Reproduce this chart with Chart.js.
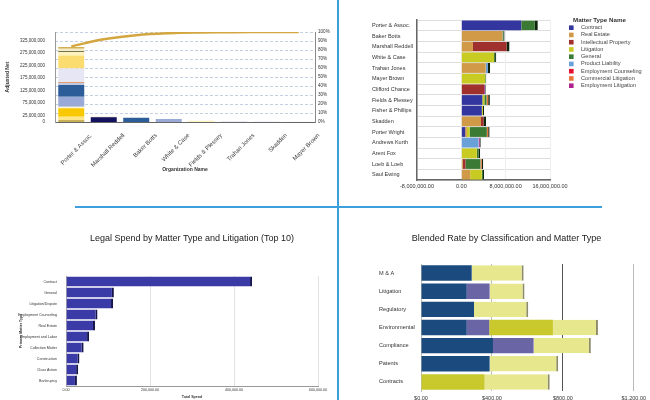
<!DOCTYPE html>
<html>
<head>
<meta charset="utf-8">
<script src="https://cdn.jsdelivr.net/npm/chart.js@4"></script>
<style>
body { margin: 0; background: #fff; width: 650px; height: 400px; overflow: hidden; position: relative; }
canvas { position: absolute; }
#c1 { left: 0; top: 0; }
#c2 { left: 339px; top: 0; }
#c3 { left: 0; top: 208px; }
#c4 { left: 339px; top: 208px; }
.vline { position: absolute; left: 337px; top: 0; width: 1.5px; height: 400px; background: #3d9fdc; }
.hline { position: absolute; left: 75px; top: 206px; width: 527px; height: 1.5px; background: #3d9fdc; }
</style>
</head>
<body>
<canvas id="c1" width="337" height="205"></canvas>
<canvas id="c2" width="311" height="205"></canvas>
<canvas id="c3" width="337" height="192"></canvas>
<canvas id="c4" width="311" height="192"></canvas>
<div class="vline"></div>
<div class="hline"></div>
<script>
// ---- chart 1 : adjusted net by organization (pareto)
const orgNames = ['Porter & Assoc.', 'Marshall Reddell', 'Baker Botts', 'White & Case', 'Fields & Plessey', 'Trahan Jones', 'Skadden', 'Mayer Brown'];
const netTicks = [0, 25e6, 75e6, 125e6, 175e6, 225e6, 275e6, 325e6];
// stacked segments, bottom to top
const seg01 = [8e6, 0, 0, 0, 0, 0, 0, 0];
const seg02 = [13e6, 0, 0, 0, 0, 0, 0, 0];
const seg03 = [34e6, 0, 0, 0, 0, 0, 0, 0];
const seg04 = [6e6, 0, 0, 0, 0, 0, 0, 0];
const seg05 = [40e6, 0, 0, 12e6, 0, 0, 0, 0];
const seg06 = [47e6, 0, 17e6, 0, 0, 0, 0, 0];
const seg07 = [0, 19e6, 0, 0, 0, 0, 0, 0];
const seg08 = [8e6, 0, 0, 0, 0, 0, 0, 0];
const seg09 = [3e6, 1.5e6, 0, 0, 0, 0, 0, 0];
const seg10 = [55e6, 0, 0, 0, 0, 3e6, 2e6, 1e6];
const seg11 = [52e6, 0, 0, 0, 0, 0, 0, 0];
const seg12 = [14e6, 0, 0, 0, 5e6, 0, 0, 0];
const seg13 = [3e6, 0, 0, 0, 0, 0, 0, 0];
const seg14 = [10e6, 0, 0, 0, 0, 0, 0, 0];
const seg15 = [7e6, 0, 0, 0, 0, 0, 0, 0];
const paretoPct = [84, 92, 96.5, 98.7, 99.5, 99.8, 99.9, 100];

// ---- chart 2 : spend by firm and matter type
const firms = ['Porter & Assoc.', 'Baker Botts', 'Marshall Reddell', 'White & Case', 'Trahan Jones', 'Mayer Brown', 'Clifford Chance', 'Fields & Plessey', 'Fisher & Phillips', 'Skadden', 'Porter Wright', 'Andrews Kurth', 'Arent Fox', 'Loeb & Loeb', 'Saul Ewing'];
const matterTypes = ['Contract', 'Real Estate', 'Intellectual Property', 'Litigation', 'General', 'Product Liability', 'Employment Counseling', 'Commercial Litigation', 'Employment Litigation'];
const contract   = [10.8e6, 0, 0, 0, 0, 0, 0, 3.8e6, 3.7e6, 0, 0.7e6, 0, 0, 0, 0];
const realEstate = [0, 7.4e6, 2.1e6, 0, 4.4e6, 0, 0, 0, 0, 3.55e6, 0.3e6, 0, 0, 0.25e6, 1.6e6];
const intellProp = [0, 0, 6.6e6, 0, 0, 0, 4.1e6, 0, 0, 0.9e6, 0, 0, 0, 0.5e6, 0];
const litigation = [0, 0, 0, 5.9e6, 0, 4.3e6, 0, 0.35e6, 0.4e6, 0, 0.5e6, 0, 2.8e6, 0, 2.1e6];
const general    = [3.0e6, 0.4e6, 0, 0.4e6, 0, 0.2e6, 0, 0.4e6, 0, 0, 3.1e6, 0, 0.6e6, 2.7e6, 0.4e6];
const prodLiab   = [0, 0, 0, 0, 0.8e6, 0, 0, 0, 0, 0, 0, 3.1e6, 0, 0, 0];
const empCounsel = [0, 0, 0, 0, 0, 0, 0, 0, 0, 0, 0, 0, 0, 0, 0];
const commLit    = [0, 0, 0, 0, 0, 0, 0, 0.6e6, 0, 0, 0.5e6, 0, 0, 0.5e6, 0];
const empLit     = [0, 0, 0, 0, 0, 0, 0.3e6, 0, 0, 0, 0, 0.4e6, 0, 0, 0];

// ---- chart 3 : legal spend top 10
const spendTypes = ['Contract', 'General', 'Litigation/Dispute', 'Employment Counseling', 'Real Estate', 'Employment and Labor', 'Collection Matter', 'Construction', 'Class Action', 'Bankruptcy'];
const spendTotals = [443000, 114000, 112000, 75000, 69000, 55000, 42000, 32000, 29000, 26000];

// ---- chart 4 : blended rate
const rateClasses = ['M & A', 'Litigation', 'Regulatory', 'Environmental', 'Compliance', 'Patents', 'Contracts'];
const rateA = [286, 258, 299, 258, 406, 387, 0];
const rateB = [0, 129, 0, 127, 229, 0, 0];
const rateC = [0, 0, 0, 359, 0, 0, 359];
const rateD = [293, 197, 306, 254, 323, 387, 367];

Chart.defaults.font.family = '"Liberation Sans", Arial, sans-serif';
Chart.defaults.color = '#333';
Chart.defaults.animation = false;
Chart.defaults.plugins.tooltip.enabled = false;

// ---------------- chart 1
const netSegs = [seg01, seg02, seg03, seg04, seg05, seg06, seg07, seg08, seg09, seg10, seg11, seg12, seg13, seg14, seg15];
const netColors = ['#c8b058', '#fde68a', '#f8c800', '#fff4d4', '#9aaad6', '#2c5d98', '#12125e', '#c0c8e2', '#d8803a',
                   '#e6e6f4', '#fbdc70', '#fff1bc', '#46461e', '#f5ecca', '#d4b050'];
const netSets = netSegs.map((d, i) => ({
    type: 'bar', data: d, backgroundColor: netColors[i], order: 1,
    barPercentage: 0.8, categoryPercentage: 1
}));
netSets.push({
    type: 'line', data: paretoPct, yAxisID: 'pct', order: 0,
    borderColor: '#d4a640', borderWidth: 2.5, pointRadius: 0, tension: 0.4
});

new Chart(document.getElementById('c1'), {
    type: 'bar',
    data: { labels: orgNames, datasets: netSets },
    options: {
        responsive: false,
        layout: { padding: { top: 32, left: 0, right: 0, bottom: 0 } },
        plugins: { legend: { display: false } },
        scales: {
            x: {
                stacked: true,
                grid: { display: false },
                border: { color: '#666' },
                ticks: { minRotation: 45, maxRotation: 45, autoSkip: false, labelOffset: 20, padding: 2, font: { size: 6 }, color: '#444' },
                title: { display: true, text: 'Organization Name', font: { size: 5, weight: 'bold' }, padding: { top: 0, bottom: 32 } },
                afterFit: s => { s.height = 83; }
            },
            y: {
                stacked: true, min: 0, max: 360e6,
                afterBuildTicks: s => { s.ticks = netTicks.map(v => ({ value: v })); },
                grid: { display: false },
                border: { color: '#999' },
                ticks: { font: { size: 4.5 }, padding: 2, callback: v => v.toLocaleString('en-US') },
                title: { display: true, text: 'Adjusted Net', font: { size: 5, weight: 'bold' }, padding: { top: 5 } },
                afterFit: s => { s.width = 55; }
            },
            pct: {
                position: 'right', min: 0, max: 100,
                grid: { color: '#c5cfe2', drawTicks: false },
                border: { color: '#888', dash: [3, 2] },
                ticks: { stepSize: 10, font: { size: 4.6 }, padding: 3, callback: v => v + '%' },
                afterFit: s => { s.width = 22; }
            }
        }
    }
});

// ---------------- chart 2
const matterColors = ['#3436a0', '#d09a48', '#a0302e', '#c8cc22', '#3a7a34', '#6aa0d8', '#e81030', '#e8763a', '#b0228f'];
const matterData = [contract, realEstate, intellProp, litigation, general, prodLiab, empCounsel, commLit, empLit];

function endCap(ctx) {
    const row = ctx.dataIndex;
    const ds = ctx.chart.data.datasets;
    let last = -1;
    for (let i = 0; i < ds.length; i++) if (ds[i].data[row] > 0) last = i;
    return ctx.datasetIndex === last ? { top: 0, bottom: 0, left: 0, right: 3 } : 0;
}

const matterLegend = {
    id: 'matterLegend',
    afterDraw(chart) {
        const ctx = chart.ctx;
        ctx.save();
        ctx.textBaseline = 'middle';
        ctx.fillStyle = '#333';
        ctx.font = 'bold 6.2px "Liberation Sans", Arial';
        ctx.fillText('Matter Type Name', 234, 20);
        ctx.font = '5.6px "Liberation Sans", Arial';
        chart.data.datasets.forEach((ds, i) => {
            const y = 27.7 + i * 7.25;
            ctx.fillStyle = ds.backgroundColor;
            ctx.fillRect(230, y - 2.3, 4.6, 4.6);
            ctx.fillStyle = '#444';
            ctx.fillText(ds.label, 242, y);
        });
        ctx.restore();
    }
};

new Chart(document.getElementById('c2'), {
    type: 'bar',
    data: {
        labels: firms,
        datasets: matterData.map((d, i) => ({
            label: matterTypes[i], data: d, backgroundColor: matterColors[i],
            borderColor: '#0e240f', borderWidth: endCap, borderSkipped: false,
            barPercentage: 0.92, categoryPercentage: 1
        }))
    },
    plugins: [matterLegend],
    options: {
        responsive: false,
        indexAxis: 'y',
        layout: { padding: { top: 20, left: 33, right: 100, bottom: 0 } },
        plugins: { legend: { display: false } },
        scales: {
            y: {
                stacked: true,
                grid: { color: '#dedede', drawTicks: false },
                border: { color: '#666', width: 1.5 },
                ticks: { crossAlign: 'far', font: { size: 5.5 }, color: '#333' },
                afterFit: s => { s.width = 45; }
            },
            x: {
                stacked: true, min: -8e6, max: 16e6,
                grid: { color: '#eeeeee', drawTicks: false },
                border: { color: '#666', width: 1.5 },
                ticks: { stepSize: 8e6, padding: 3, font: { size: 5.5 }, callback: v => v.toLocaleString('en-US', { minimumFractionDigits: 2 }) },
                afterFit: s => { s.height = 25; }
            }
        }
    }
});

// ---------------- chart 3
new Chart(document.getElementById('c3'), {
    type: 'bar',
    data: {
        labels: spendTypes,
        datasets: [{
            data: spendTotals, backgroundColor: '#3b3ba8',
            borderColor: '#15154a', borderWidth: { top: 0, bottom: 0, left: 0, right: 2 }, borderSkipped: false,
            barPercentage: 0.9, categoryPercentage: 1
        }]
    },
    options: {
        responsive: false,
        indexAxis: 'y',
        layout: { padding: { top: 0, left: 0, right: 19, bottom: 0 } },
        plugins: {
            legend: { display: false },
            title: { display: true, fullSize: false, text: 'Legal Spend by Matter Type and Litigation (Top 10)', color: '#222', font: { size: 9, weight: 'normal' }, padding: { top: 25.6, bottom: 31.6 } }
        },
        scales: {
            y: {
                grid: { display: false },
                border: { color: '#aaa' },
                ticks: { font: { size: 3.6 }, padding: 1, color: '#333' },
                title: { display: true, text: 'Primary Matter Type', font: { size: 3.6, weight: 'bold' }, padding: { top: 19 } },
                afterFit: s => { s.width = 66; }
            },
            x: {
                min: 0, max: 600000,
                grid: { color: '#e2e2e2', drawTicks: false },
                border: { color: '#999' },
                ticks: { stepSize: 200000, padding: 2, font: { size: 3.6 }, callback: v => v.toLocaleString('en-US', { minimumFractionDigits: 2 }) },
                title: { display: true, text: 'Total Spend', font: { size: 3.6, weight: 'bold' }, padding: { top: 0, bottom: 1 } },
                afterFit: s => { s.height = 14; }
            }
        }
    }
});

// ---------------- chart 4
const rateColors = ['#1b4a7e', '#6a65a5', '#c9c92e', '#e7e78e'];
const rateData = [rateA, rateB, rateC, rateD];
new Chart(document.getElementById('c4'), {
    type: 'bar',
    data: {
        labels: rateClasses,
        datasets: rateData.map((d, i) => ({
            data: d, backgroundColor: rateColors[i],
            borderColor: '#8c8c6a', borderSkipped: false,
            borderWidth: i === 3 ? { top: 0, bottom: 0, left: 0, right: 2 } : 0,
            barPercentage: 0.85, categoryPercentage: 1
        }))
    },
    options: {
        responsive: false,
        indexAxis: 'y',
        layout: { padding: { top: 0, left: 40, right: 16, bottom: 0 } },
        plugins: {
            legend: { display: false },
            title: { display: true, text: 'Blended Rate by Classification and Matter Type', color: '#222', font: { size: 9, weight: 'normal' }, padding: { top: 25.6, bottom: 19.6 } }
        },
        scales: {
            y: {
                stacked: true,
                grid: { display: false },
                border: { color: '#bbb' },
                ticks: { crossAlign: 'far', font: { size: 5.6 }, color: '#333' },
                afterFit: s => { s.width = 42; }
            },
            x: {
                stacked: true, min: 0, max: 1200,
                grid: { drawTicks: false, color: c => (c.index === 2 ? '#555' : '#bbb') },
                border: { display: false },
                ticks: { stepSize: 400, padding: 4, font: { size: 5.5 }, callback: v => '$' + v.toLocaleString('en-US', { minimumFractionDigits: 2 }) },
                afterFit: s => { s.height = 9; }
            }
        }
    }
});
</script>
</body>
</html>
